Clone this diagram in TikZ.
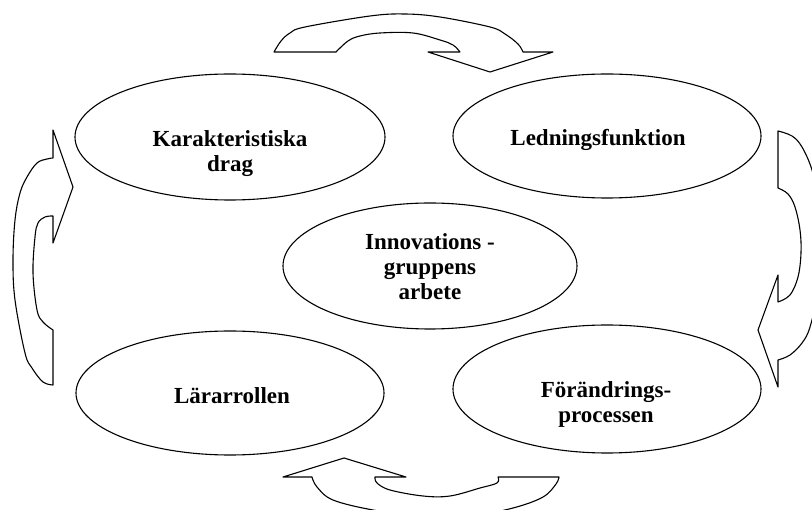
\documentclass[tikz,border=0pt]{standalone}
\usepackage{fontspec}
\setmainfont{Liberation Serif}
\usetikzlibrary{shapes.geometric}
\begin{document}
\begin{tikzpicture}[x=1pt,y=-1pt,
  oval/.style={draw, ellipse, line width=1.1pt, inner sep=0pt},
  caption/.style={font=\bfseries\fontsize{23}{25}\selectfont,
                  align=center, inner sep=0pt},
  cyclearrow/.style={draw, line width=1.1pt, line join=round}]
\useasboundingbox (0,0) rectangle (812,510);

% the five themes
\node[oval, minimum width=310pt, minimum height=126pt] (kar) at (230,137) {};
\node[oval, minimum width=308pt, minimum height=124pt] (led) at (607,136) {};
\node[oval, minimum width=294pt, minimum height=126pt] (inn) at (430,266) {};
\node[oval, minimum width=308pt, minimum height=124pt] (lar) at (230,393) {};
\node[oval, minimum width=308pt, minimum height=128pt] (for) at (607,389) {};

\node[caption] (kar-text) at (230,153.5) {Karakteristiska\\drag};
\node[caption] (led-text) at (598,139.6) {Ledningsfunktion};
\node[caption] (inn-text) at (430,266.4) {Innovations -\\gruppens\\arbete};
\node[caption] (lar-text) at (232,395.2) {Lärarrollen};
\node[caption] (for-text) at (606,404) {Förändrings-\\processen};

% curved block arrows running clockwise round the themes
% top: left to right
\draw[cyclearrow] (274,52) -- (336,52)
  -- plot[smooth, tension=0.6] coordinates {(336,52) (348,41) (360,36) (380,33) (413,33) (440,40) (453,45) (460,52)}
  -- (428,52) -- (490,72) -- (553,52) -- (523,52)
  -- plot[smooth, tension=0.6] coordinates {(523,52) (518,44) (505,34) (490,27) (440,17) (405,14) (370,16) (305,27) (290,33) (281,41) (274,52)}
  -- cycle;

% right: downwards
\draw[cyclearrow] (778,131) -- (778,188)
  -- plot[smooth, tension=0.6] coordinates {(778,188) (788,194) (795,207) (800,230) (801,253) (798,277) (790,295) (778,302)}
  -- (778,275) -- (758,330) -- (778,387) -- (778,360)
  -- plot[smooth, tension=0.6] coordinates {(778,360) (790,355) (802,343) (810,327) (818,290) (820,245) (818,200) (812,170) (802,147) (792,136) (778,131)}
  -- cycle;

% bottom: right to left
\draw[cyclearrow] (283,477) -- (344,458) -- (406,477) -- (375,477)
  -- plot[smooth, tension=0.6] coordinates {(375,477) (377,483) (390,490) (423,496) (450,496) (480,488) (497,483) (498,477)}
  -- (559,477)
  -- plot[smooth, tension=0.6] coordinates {(559,477) (556,484) (543,497) (513,508) (470,516) (420,516) (373,510) (333,500) (317,487) (312,477)}
  -- cycle;

% left: upwards
\draw[cyclearrow] (53,385)
  -- plot[smooth, tension=0.6] coordinates {(53,385) (43,382) (32,368) (25,353) (15,300) (13,260) (15,220) (20,193) (27,177) (37,163) (47,159) (53,158)}
  -- (53,130) -- (73,187) -- (53,243) -- (53,216)
  -- plot[smooth, tension=0.6] coordinates {(53,216) (45,217) (38,223) (35,237) (33,273) (37,310) (43,322) (53,330)}
  -- cycle;
\end{tikzpicture}
\end{document}
